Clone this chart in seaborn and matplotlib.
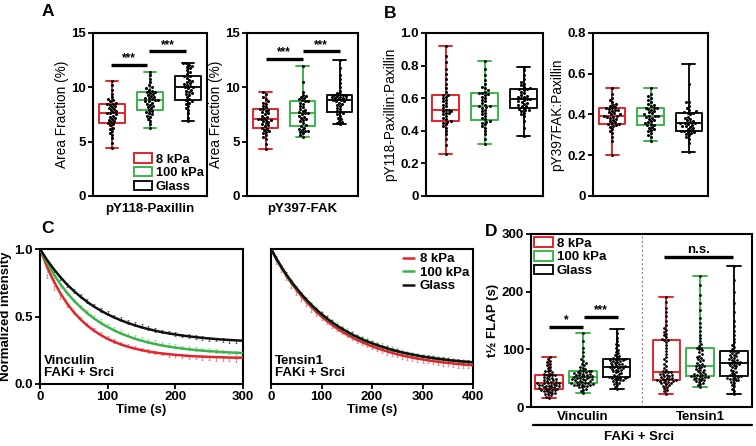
import matplotlib
matplotlib.use("Agg")
import matplotlib.pyplot as plt
from matplotlib.patches import Patch
from matplotlib.lines import Line2D
import seaborn as sns
import numpy as np
import pandas as pd

sns.set_style("ticks")
plt.rcParams["font.family"] = ["Liberation Sans", "DejaVu Sans"]
plt.rcParams["font.weight"] = "bold"
plt.rcParams["axes.labelweight"] = "bold"
for key in ["text.color", "axes.labelcolor", "xtick.color", "ytick.color", "axes.edgecolor"]:
    plt.rcParams[key] = "black"

conditions = ["8 kPa", "100 kPa", "Glass"]
cond_colors = ["#e3242b", "#3bb54a", "#111111"]
err_colors = ["#ef7b7e", "#8fd394", "#555555"]

# ---- panel A: area fraction (%)
pax_8 = [4.4, 4.9, 5.3, 5.6, 5.8, 6.0, 6.2, 6.3, 6.5, 6.6,
         6.7, 6.8, 6.9, 7.0, 7.1, 7.2, 7.3, 7.4, 7.5, 7.6,
         7.6, 7.7, 7.8, 7.9, 8.0, 8.1, 8.2, 8.3, 8.4, 8.5,
         8.5, 8.6, 8.7, 8.8, 8.9, 9.1, 9.4, 9.8, 10.2, 10.6]
pax_100 = [6.3, 6.6, 6.9, 7.1, 7.3, 7.4, 7.5, 7.6, 7.7, 7.8,
           7.9, 8.1, 8.2, 8.3, 8.4, 8.5, 8.6, 8.7, 8.7, 8.8,
           8.8, 8.9, 9.0, 9.0, 9.1, 9.2, 9.3, 9.4, 9.5, 9.6,
           9.6, 9.7, 9.8, 9.9, 10.0, 10.2, 10.5, 10.8, 11.1, 11.4]
pax_glass = [6.9, 7.2, 7.6, 7.9, 8.1, 8.3, 8.5, 8.6, 8.7, 8.8,
             8.9, 9.1, 9.3, 9.4, 9.5, 9.6, 9.7, 9.8, 9.9, 10.0,
             10.0, 10.1, 10.2, 10.3, 10.4, 10.5, 10.6, 10.7, 10.9, 11.0,
             11.0, 11.2, 11.4, 11.6, 11.8, 11.9, 12.0, 12.1, 12.2, 12.2]
fak_8 = [4.3, 4.8, 5.2, 5.4, 5.6, 5.8, 5.9, 6.0, 6.1, 6.2,
         6.3, 6.4, 6.5, 6.6, 6.7, 6.8, 6.9, 7.0, 7.0, 7.1,
         7.1, 7.2, 7.3, 7.4, 7.5, 7.6, 7.7, 7.8, 7.9, 8.0,
         8.0, 8.2, 8.3, 8.5, 8.6, 8.7, 8.9, 9.1, 9.4, 9.6]
fak_100 = [5.4, 5.6, 5.8, 5.9, 6.0, 6.0, 6.1, 6.2, 6.3, 6.4,
           6.5, 6.7, 6.9, 7.0, 7.1, 7.2, 7.3, 7.4, 7.5, 7.6,
           7.6, 7.7, 7.8, 7.9, 8.0, 8.2, 8.3, 8.5, 8.6, 8.7,
           8.7, 8.8, 8.9, 9.0, 9.1, 9.2, 9.3, 9.6, 10.5, 12.0]
fak_glass = [6.6, 6.7, 6.8, 6.9, 7.1, 7.2, 7.4, 7.5, 7.6, 7.7,
             7.8, 8.0, 8.1, 8.3, 8.4, 8.5, 8.6, 8.7, 8.7, 8.8,
             8.8, 8.9, 8.9, 9.0, 9.0, 9.1, 9.1, 9.2, 9.2, 9.3,
             9.3, 9.4, 9.5, 9.7, 10.0, 10.4, 10.8, 11.1, 11.8, 12.5]

# ---- panel B: ratios
ppax_8 = [0.26, 0.31, 0.35, 0.38, 0.40, 0.42, 0.43, 0.44, 0.45, 0.455,
          0.46, 0.47, 0.48, 0.49, 0.50, 0.51, 0.51, 0.52, 0.52, 0.53,
          0.53, 0.54, 0.55, 0.56, 0.57, 0.58, 0.59, 0.60, 0.61, 0.62,
          0.62, 0.64, 0.66, 0.69, 0.72, 0.75, 0.78, 0.82, 0.86, 0.92]
ppax_100 = [0.32, 0.35, 0.38, 0.40, 0.42, 0.43, 0.44, 0.45, 0.455, 0.46,
            0.47, 0.48, 0.49, 0.50, 0.51, 0.52, 0.53, 0.54, 0.545, 0.55,
            0.55, 0.56, 0.57, 0.58, 0.59, 0.60, 0.61, 0.62, 0.625, 0.634,
            0.634, 0.64, 0.65, 0.66, 0.67, 0.69, 0.71, 0.74, 0.78, 0.83]
ppax_glass = [0.37, 0.42, 0.46, 0.49, 0.50, 0.51, 0.52, 0.525, 0.53, 0.534,
              0.54, 0.55, 0.555, 0.56, 0.565, 0.57, 0.575, 0.58, 0.59, 0.593,
              0.593, 0.60, 0.605, 0.61, 0.615, 0.62, 0.63, 0.64, 0.65, 0.655,
              0.655, 0.66, 0.67, 0.68, 0.69, 0.70, 0.72, 0.74, 0.77, 0.79]
pfak_8 = [0.20, 0.27, 0.29, 0.31, 0.32, 0.33, 0.34, 0.345, 0.35, 0.353,
          0.355, 0.36, 0.365, 0.37, 0.375, 0.38, 0.385, 0.39, 0.39, 0.393,
          0.393, 0.40, 0.40, 0.405, 0.41, 0.415, 0.42, 0.42, 0.425, 0.43,
          0.43, 0.435, 0.44, 0.445, 0.45, 0.46, 0.47, 0.48, 0.50, 0.53]
pfak_100 = [0.27, 0.29, 0.30, 0.31, 0.32, 0.325, 0.33, 0.335, 0.34, 0.348,
            0.35, 0.355, 0.36, 0.365, 0.37, 0.375, 0.38, 0.385, 0.39, 0.392,
            0.392, 0.395, 0.40, 0.405, 0.41, 0.415, 0.42, 0.425, 0.43, 0.434,
            0.434, 0.44, 0.445, 0.45, 0.46, 0.47, 0.48, 0.49, 0.50, 0.53]
pfak_glass = [0.217, 0.26, 0.28, 0.29, 0.30, 0.305, 0.31, 0.312, 0.315, 0.318,
              0.32, 0.325, 0.33, 0.335, 0.34, 0.342, 0.345, 0.35, 0.352, 0.356,
              0.356, 0.36, 0.365, 0.37, 0.375, 0.38, 0.385, 0.39, 0.40, 0.408,
              0.408, 0.41, 0.415, 0.42, 0.43, 0.44, 0.46, 0.46, 0.55, 0.648]

# ---- panel C: FLAP decay, fitted curves and mean +/- sem
t_vinc = [0, 10, 20, 30, 40, 50, 60, 70, 80, 90, 100, 110, 120, 130, 140, 150,
          160, 170, 180, 190, 200, 210, 220, 230, 240, 250, 260, 270, 280, 290, 300]
vinc_fit_8 = [1.0, 0.872, 0.764, 0.673, 0.596, 0.532, 0.478, 0.432, 0.394, 0.362, 0.334,
              0.312, 0.292, 0.276, 0.262, 0.251, 0.241, 0.233, 0.226, 0.221, 0.216,
              0.212, 0.208, 0.205, 0.203, 0.201, 0.199, 0.198, 0.196, 0.195, 0.195]
vinc_fit_100 = [1.0, 0.902, 0.816, 0.741, 0.675, 0.618, 0.568, 0.524, 0.485, 0.451, 0.422,
                0.396, 0.373, 0.354, 0.336, 0.321, 0.308, 0.296, 0.286, 0.277, 0.270,
                0.263, 0.257, 0.252, 0.247, 0.243, 0.240, 0.236, 0.234, 0.231, 0.229]
vinc_fit_glass = [1.0, 0.922, 0.853, 0.792, 0.737, 0.689, 0.646, 0.607, 0.573, 0.543, 0.516,
                  0.492, 0.471, 0.452, 0.435, 0.420, 0.407, 0.395, 0.384, 0.375, 0.367,
                  0.359, 0.353, 0.347, 0.342, 0.337, 0.333, 0.329, 0.326, 0.323, 0.321]
vinc_mean_8 = [1.0, 0.80, 0.71, 0.645, 0.585, 0.53, 0.485, 0.44, 0.405, 0.375, 0.345,
               0.32, 0.30, 0.285, 0.27, 0.255, 0.245, 0.235, 0.225, 0.215, 0.21,
               0.205, 0.20, 0.195, 0.19, 0.19, 0.185, 0.18, 0.18, 0.175, 0.175]
vinc_mean_100 = [1.0, 0.845, 0.78, 0.725, 0.67, 0.62, 0.575, 0.535, 0.495, 0.465, 0.435,
                 0.41, 0.385, 0.365, 0.35, 0.335, 0.32, 0.31, 0.30, 0.29, 0.28,
                 0.27, 0.265, 0.26, 0.255, 0.25, 0.245, 0.24, 0.235, 0.23, 0.225]
vinc_mean_glass = [1.0, 0.90, 0.84, 0.785, 0.735, 0.69, 0.65, 0.615, 0.58, 0.55, 0.525,
                   0.50, 0.48, 0.46, 0.445, 0.43, 0.415, 0.40, 0.39, 0.38, 0.37,
                   0.36, 0.355, 0.35, 0.34, 0.335, 0.33, 0.325, 0.32, 0.315, 0.31]

t_tens = [0, 10, 20, 30, 40, 50, 60, 70, 80, 90, 100, 110, 120, 130, 140, 150, 160,
          170, 180, 190, 200, 210, 220, 230, 240, 250, 260, 270, 280, 290, 300, 310,
          320, 330, 340, 350, 360, 370, 380, 390, 400]
tens_fit_8 = [1.0, 0.930, 0.865, 0.805, 0.750, 0.699, 0.652, 0.609, 0.570, 0.533, 0.499,
              0.468, 0.440, 0.413, 0.389, 0.367, 0.346, 0.327, 0.310, 0.294, 0.279,
              0.265, 0.253, 0.241, 0.230, 0.220, 0.211, 0.203, 0.195, 0.188, 0.182,
              0.176, 0.170, 0.165, 0.160, 0.156, 0.152, 0.148, 0.145, 0.142, 0.139]
tens_fit_100 = [1.0, 0.932, 0.869, 0.811, 0.757, 0.709, 0.663, 0.622, 0.583, 0.548, 0.515,
                0.485, 0.457, 0.432, 0.409, 0.387, 0.366, 0.348, 0.330, 0.315, 0.300,
                0.287, 0.275, 0.263, 0.252, 0.242, 0.233, 0.225, 0.217, 0.210, 0.203,
                0.197, 0.192, 0.186, 0.182, 0.177, 0.173, 0.169, 0.166, 0.163, 0.160]
tens_fit_glass = [1.0, 0.933, 0.871, 0.813, 0.760, 0.712, 0.666, 0.625, 0.586, 0.551, 0.518,
                  0.488, 0.460, 0.434, 0.411, 0.389, 0.368, 0.350, 0.332, 0.316, 0.302,
                  0.288, 0.276, 0.264, 0.253, 0.243, 0.234, 0.226, 0.218, 0.211, 0.204,
                  0.198, 0.193, 0.187, 0.183, 0.178, 0.174, 0.170, 0.167, 0.164, 0.161]
tens_mean_8 = [1.0, 0.905, 0.84, 0.78, 0.725, 0.675, 0.63, 0.59, 0.55, 0.515, 0.485,
               0.455, 0.43, 0.405, 0.38, 0.36, 0.34, 0.32, 0.30, 0.285, 0.27,
               0.255, 0.245, 0.23, 0.22, 0.21, 0.20, 0.19, 0.185, 0.175, 0.17,
               0.165, 0.16, 0.155, 0.15, 0.145, 0.14, 0.135, 0.13, 0.128, 0.125]
tens_mean_100 = [1.0, 0.93, 0.87, 0.815, 0.765, 0.715, 0.67, 0.63, 0.595, 0.56, 0.53,
                 0.50, 0.47, 0.445, 0.42, 0.40, 0.38, 0.36, 0.345, 0.33, 0.315,
                 0.30, 0.29, 0.275, 0.265, 0.255, 0.245, 0.235, 0.225, 0.22, 0.21,
                 0.205, 0.20, 0.195, 0.19, 0.185, 0.18, 0.175, 0.17, 0.165, 0.16]
tens_mean_glass = [1.0, 0.935, 0.87, 0.815, 0.76, 0.71, 0.665, 0.625, 0.585, 0.55, 0.52,
                   0.49, 0.46, 0.435, 0.41, 0.39, 0.37, 0.35, 0.335, 0.32, 0.305,
                   0.29, 0.275, 0.265, 0.255, 0.245, 0.235, 0.225, 0.22, 0.21, 0.205,
                   0.20, 0.195, 0.19, 0.185, 0.18, 0.175, 0.17, 0.168, 0.165, 0.16]
curve_sem = 0.013

# ---- panel D: t1/2 FLAP (s)
proteins = ["Vinculin", "Tensin1"]
vinc_8 = [16, 18, 20, 22, 23, 24, 25, 26, 27, 28, 29, 30, 30, 31, 32,
          32, 33, 34, 34, 35, 36, 36, 37, 38, 38, 39, 39, 40, 41, 41,
          41, 42, 43, 44, 45, 46, 47, 48, 49, 50, 51, 52, 53, 55, 56,
          56, 57, 58, 60, 62, 63, 65, 67, 70, 72, 75, 78, 80, 83, 86]
vinc_100 = [25, 28, 30, 32, 34, 35, 36, 37, 38, 38, 39, 39, 40, 40, 41,
            41, 42, 43, 44, 45, 45, 46, 47, 48, 48, 49, 50, 50, 51, 52,
            52, 53, 53, 54, 55, 55, 56, 57, 58, 59, 59, 60, 61, 62, 63,
            63, 64, 66, 68, 70, 72, 74, 76, 79, 83, 88, 95, 103, 115, 128]
vinc_glass = [32, 35, 38, 40, 42, 44, 45, 46, 47, 48, 49, 50, 51, 51, 52,
              52, 54, 56, 58, 59, 60, 62, 63, 64, 65, 66, 67, 68, 69, 70,
              70, 71, 72, 73, 74, 75, 76, 77, 78, 79, 80, 81, 82, 82, 83,
              83, 85, 87, 89, 91, 93, 96, 99, 103, 107, 110, 115, 120, 128, 136]
tens_8 = [23, 27, 30, 33, 35, 37, 38, 40, 41, 42, 43, 44, 45, 45, 46,
          46, 47, 48, 49, 50, 51, 52, 53, 54, 55, 56, 57, 58, 60, 61,
          61, 63, 65, 68, 71, 75, 79, 83, 87, 92, 97, 102, 107, 112, 116,
          116, 118, 121, 124, 127, 130, 133, 137, 143, 150, 158, 165, 172, 182, 191]
tens_100 = [35, 38, 40, 42, 44, 45, 46, 47, 48, 49, 50, 51, 52, 52, 53,
            53, 54, 55, 56, 57, 58, 59, 61, 62, 64, 65, 66, 68, 70, 71,
            71, 73, 75, 77, 79, 81, 83, 85, 87, 89, 92, 95, 98, 100, 103,
            103, 106, 110, 115, 120, 125, 131, 138, 145, 155, 168, 180, 195, 212, 228]
tens_glass = [23, 28, 32, 36, 39, 42, 44, 46, 47, 48, 49, 50, 51, 52, 53,
              53, 55, 57, 59, 61, 63, 65, 67, 69, 71, 72, 73, 74, 76, 77,
              77, 78, 80, 81, 82, 84, 85, 87, 88, 90, 91, 93, 94, 96, 97,
              97, 100, 104, 108, 113, 118, 125, 132, 140, 150, 165, 180, 200, 220, 245]

W, H = 756, 446


def px_axes(fig, left, right, top, bottom):
    return fig.add_axes([left / W, 1 - bottom / H, (right - left) / W, (bottom - top) / H])


def style(ax):
    for s in ax.spines.values():
        s.set_visible(True)
        s.set_linewidth(1.5)
        s.set_color("black")
    ax.tick_params(direction="out", length=3.5, width=1.3, labelsize=9.5, pad=1.5,
                   colors="black", labelcolor="black")


def box_swarm(ax, groups, width=0.68, size=2.2):
    df = pd.DataFrame({"cond": np.repeat(conditions, [len(g) for g in groups]),
                       "value": np.concatenate(groups)})
    sns.boxplot(data=df, x="cond", y="value", hue="cond", order=conditions,
                hue_order=conditions, palette=cond_colors, fill=False,
                whis=(0, 100), width=width, linewidth=1.4, legend=False, ax=ax)
    sns.swarmplot(data=df, x="cond", y="value", order=conditions, color="black",
                  size=size, ax=ax, zorder=3)
    ax.set_xlim(-0.5, 2.5)
    ax.set_xticks([])
    ax.set_ylabel("")


def sig(ax, x0, x1, y, text, dy, fs=8.5):
    ax.plot([x0, x1], [y, y], color="black", lw=2.4, solid_capstyle="butt")
    ax.text((x0 + x1) / 2, y + dy, text, ha="center", va="bottom", fontsize=fs)


box_handles = [Patch(facecolor="white", edgecolor=c, linewidth=1.4, label=l)
               for c, l in zip(cond_colors, conditions)]

fig = plt.figure(figsize=(W / 100, H / 100), dpi=100)

# A1
ax = px_axes(fig, 93, 207, 33, 196)
box_swarm(ax, [pax_8, pax_100, pax_glass])
ax.set_ylim(0, 15)
ax.set_yticks([0, 5, 10, 15])
ax.set_ylabel("Area Fraction (%)", fontweight="normal", fontsize=9.8, labelpad=2)
ax.set_xlabel("pY118-Paxillin", fontsize=9.5, labelpad=5)
sig(ax, -0.03, 0.93, 12.1, "***", 0.05)
sig(ax, 0.98, 1.95, 13.3, "***", 0.05)
ax.legend(handles=box_handles, loc="lower right", frameon=False, fontsize=9.3,
          handlelength=1.4, handleheight=0.75, labelspacing=0.1, handletextpad=0.3,
          borderaxespad=0.15, borderpad=0.1)
style(ax)

# A2
ax = px_axes(fig, 247, 358, 33, 196)
box_swarm(ax, [fak_8, fak_100, fak_glass])
ax.set_ylim(0, 15)
ax.set_yticks([0, 5, 10, 15])
ax.set_ylabel("Area Fraction (%)", fontweight="normal", fontsize=9.8, labelpad=2)
ax.set_xlabel("pY397-FAK", fontsize=9.5, labelpad=5)
sig(ax, 0.0, 1.0, 12.6, "***", 0.05)
sig(ax, 1.0, 2.0, 13.3, "***", 0.05)
style(ax)

# B1
ax = px_axes(fig, 426, 543, 33, 196)
box_swarm(ax, [ppax_8, ppax_100, ppax_glass])
ax.set_ylim(0, 1.0)
ax.set_yticks([0, 0.2, 0.4, 0.6, 0.8, 1.0])
ax.set_yticklabels(["0", "0.2", "0.4", "0.6", "0.8", "1.0"])
ax.set_ylabel("pY118-Paxillin:Paxillin", fontweight="normal", fontsize=9.8, labelpad=2)
ax.set_xlabel("")
style(ax)

# B2
ax = px_axes(fig, 593, 708, 33, 196)
box_swarm(ax, [pfak_8, pfak_100, pfak_glass])
ax.set_ylim(0, 0.8)
ax.set_yticks([0, 0.2, 0.4, 0.6, 0.8])
ax.set_yticklabels(["0", "0.2", "0.4", "0.6", "0.8"])
ax.set_ylabel("pY397FAK:Paxillin", fontweight="normal", fontsize=9.8, labelpad=2)
ax.set_xlabel("")
style(ax)


def decay(ax, t, fits, means, xmax):
    n = len(t)
    df = pd.DataFrame({"t": np.tile(t, 3), "y": np.concatenate(fits),
                       "cond": np.repeat(conditions, n)})
    for m, c in zip(means, err_colors):
        ax.errorbar(t[1:], m[1:], yerr=curve_sem, fmt="none", ecolor=c,
                    elinewidth=0.6, capsize=1.0, capthick=0.6, zorder=1)
    sns.lineplot(data=df, x="t", y="y", hue="cond", hue_order=conditions,
                 palette=cond_colors, linewidth=1.8, errorbar=None, legend=False,
                 ax=ax, zorder=3)
    ax.set_xlim(0, xmax)
    ax.set_ylim(0, 1.0)
    ax.set_xlabel("Time (s)", fontsize=9.5, labelpad=1)


# C1
ax = px_axes(fig, 40, 243, 249, 384)
decay(ax, t_vinc, [vinc_fit_8, vinc_fit_100, vinc_fit_glass],
      [vinc_mean_8, vinc_mean_100, vinc_mean_glass], 300)
ax.set_xticks([0, 100, 200, 300])
ax.set_yticks([0, 0.5, 1.0])
ax.set_yticklabels(["0.0", "0.5", "1.0"])
ax.set_ylabel("Normalized intensity", fontsize=9.5, labelpad=2)
ax.text(0.02, 0.04, "Vinculin\nFAKi + Srci", transform=ax.transAxes, fontsize=9.5,
        ha="left", va="bottom", linespacing=1.0)
style(ax)

# C2
ax = px_axes(fig, 271, 473, 249, 384)
decay(ax, t_tens, [tens_fit_8, tens_fit_100, tens_fit_glass],
      [tens_mean_8, tens_mean_100, tens_mean_glass], 400)
ax.set_xticks([0, 100, 200, 300, 400])
ax.set_yticks([])
ax.set_ylabel("")
ax.text(0.02, 0.04, "Tensin1\nFAKi + Srci", transform=ax.transAxes, fontsize=9.5,
        ha="left", va="bottom", linespacing=1.0)
line_handles = [Line2D([], [], color=c, lw=1.8, label=l) for c, l in zip(cond_colors, conditions)]
ax.legend(handles=line_handles, loc="upper right", frameon=False, fontsize=9.5,
          handlelength=0.9, labelspacing=0.1, handletextpad=0.4, borderaxespad=0.2,
          borderpad=0.1)
style(ax)

# D
d_positions = [-0.29, 0.0, 0.29, 0.71, 1.0, 1.29]
d_groups = [vinc_8, vinc_100, vinc_glass, tens_8, tens_100, tens_glass]
lens = [len(g) for g in d_groups]
df_d = pd.DataFrame({"pos": np.repeat(d_positions, lens),
                     "cond": np.repeat(conditions * 2, lens),
                     "value": np.concatenate(d_groups)})
ax = px_axes(fig, 531, 752, 234, 407)
sns.boxplot(data=df_d, x="pos", y="value", hue="cond", hue_order=conditions,
            palette=cond_colors, native_scale=True, dodge=False, fill=False,
            whis=(0, 100), width=0.8, linewidth=1.4, legend=False, ax=ax)
sns.swarmplot(data=df_d, x="pos", y="value", native_scale=True, color="black",
              size=2.0, ax=ax, zorder=3)
ax.axvline(0.5, color="#888888", lw=0.8, ls=(0, (2, 2)))
ax.set_xlim(-0.444, 1.444)
ax.set_ylim(0, 300)
ax.set_yticks([0, 100, 200, 300])
ax.set_xticks([0, 1])
ax.set_xticklabels(proteins)
ax.set_xlabel("")
ax.set_ylabel("t½ FLAP (s)", fontsize=9.5, labelpad=2)
sig(ax, -0.29, 0.0, 139, "*", 2)
sig(ax, 0.01, 0.30, 155.5, "***", 2)
sig(ax, 0.69, 1.28, 260.5, "n.s.", 2, fs=9.5)
ax.legend(handles=box_handles, loc="upper left", frameon=False, fontsize=9.5,
          handlelength=1.4, handleheight=0.75, labelspacing=0.1, handletextpad=0.3,
          borderaxespad=0.15, borderpad=0.1)
style(ax)
ax.tick_params(axis="x", length=0, pad=3)
ax.plot([0.01, 1.0], [-0.104, -0.104], transform=ax.transAxes, color="black",
        lw=1.6, clip_on=False)
ax.text(0.49, -0.175, "FAKi + Srci", transform=ax.transAxes, ha="center",
        va="center", fontsize=9.5)

# panel letters
for letter, x, y in [("A", 48, 11), ("B", 390, 14), ("C", 47, 228), ("D", 491, 231)]:
    fig.text(x / W, 1 - y / H, letter, fontsize=12.5, ha="center", va="center")

fig.savefig("out.png", dpi=100)
